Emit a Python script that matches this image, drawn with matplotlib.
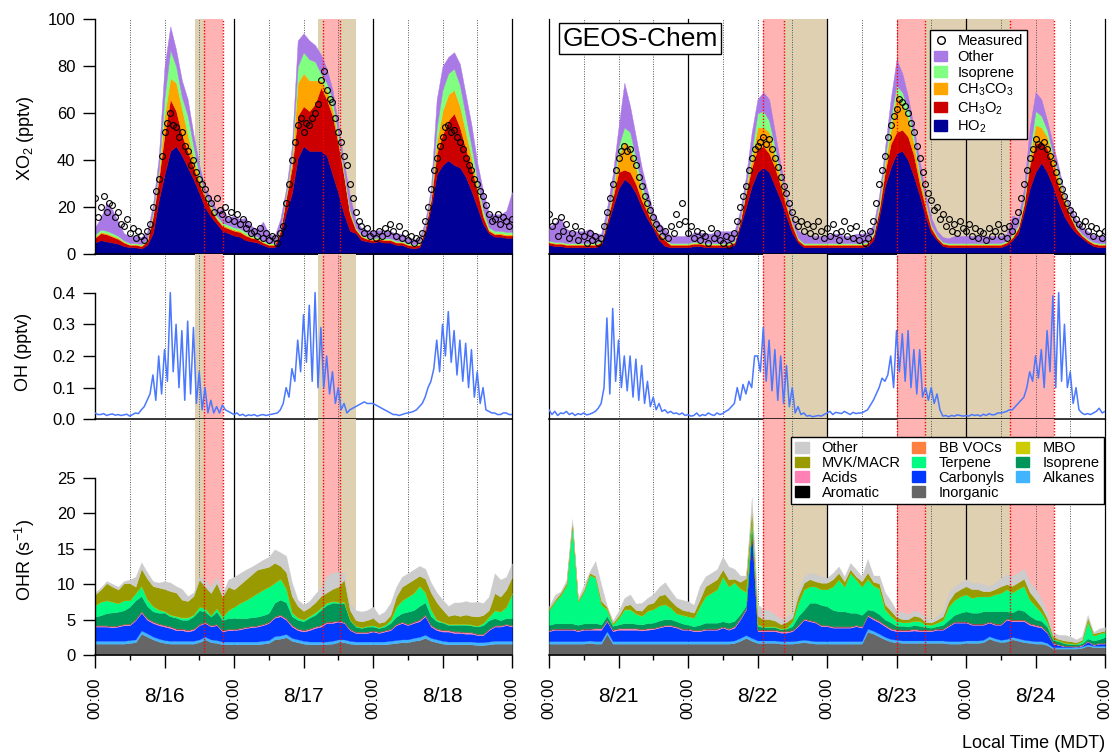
import numpy as np
import matplotlib
matplotlib.use("Agg")
import matplotlib.pyplot as plt
from matplotlib.patches import Patch
from matplotlib.lines import Line2D

plt.rcParams['font.family'] = ['Liberation Sans', 'DejaVu Sans']


def cat(*days):
    return np.concatenate([np.asarray(d, dtype=float) for d in days])


# ---------------- XO2 (pptv), hourly, left block 8/16 - 8/19 00:00 ----------------
ho2_l = cat(
    [5, 6, 5.5, 5, 4.5, 3.5, 3, 3, 2.5, 4, 9, 23, 34, 44, 46, 42, 37, 32, 26, 20, 16, 13, 10, 9],
    [8, 7.5, 6, 5.5, 5, 4, 3, 3, 8, 18, 26, 41, 46, 44, 44, 44, 42, 34, 26, 17, 10, 9, 6, 5.5],
    [5, 5.5, 5, 5, 4, 4, 3, 2.5, 3, 9, 20, 34, 38, 40, 38, 37, 33, 27, 20, 13, 9, 7.5, 7.5, 7, 7])
ch3o2_l = cat(
    [2, 3, 3, 2.5, 2, 1.5, 1, 1, 1, 1.5, 7, 9, 17, 22, 15, 9, 7, 5, 4, 4, 3, 2, 2, 2],
    [2, 2, 2, 1.5, 1.5, 1, 1, 1, 2, 6, 11, 18, 17, 17, 20, 27, 24, 25, 21, 16, 7, 1.5, 1.5, 1],
    [1, 1, 1, 1, 1, 1, 1, 1, 1, 2, 3, 9, 13, 17, 22, 17, 12, 10, 7, 3, 1, 1, 1, 1, 1])
ch3co3_l = cat(
    [0.5, 0.5, 0.5, 0.5, 0.5, 0.3, 0.3, 0.3, 0.3, 0.5, 1, 2, 8, 9, 12, 11, 7, 4, 2, 1, 1, 0.5, 0.5, 0.5],
    [0.5, 0.5, 0.5, 0.3, 0.3, 0.3, 0.3, 0.3, 0.5, 1, 3, 14, 14, 13, 10, 3, 4, 3, 2, 1, 1, 0.5, 0.3, 0.3],
    [0.3, 0.3, 0.3, 0.3, 0.3, 0.3, 0.3, 0.3, 0.3, 0.5, 1, 5, 10, 11, 10, 9, 7, 4, 2, 1, 0.5, 0.5, 0.5, 0.5, 0.5])
isop_xo2_l = cat(
    [1, 1, 1, 1, 0.8, 0.6, 0.5, 0.5, 0.5, 0.5, 1, 2, 8, 12, 7, 5, 8, 5, 2, 1, 1, 1, 1, 1],
    [1, 1, 1, 0.8, 0.8, 0.6, 0.5, 0.5, 0.5, 1, 2, 7, 9, 9, 8, 3, 3, 4, 2, 1, 1, 0.5, 0.5, 0.5],
    [0.5, 0.5, 0.5, 0.5, 0.5, 0.5, 0.5, 0.5, 0.5, 0.5, 1, 6, 9, 9, 9, 9, 7, 5, 3, 2, 1, 1, 1, 1, 1])
other_xo2_l = cat(
    [3, 5, 12, 10, 6, 3, 3, 3, 3, 3, 3, 5, 13, 10, 7, 7, 7, 5, 4, 2, 3, 2, 6, 3],
    [5, 4, 6, 4, 3, 8, 4, 3, 4, 2, 4, 11, 8, 8, 7, 8, 6, 4, 4, 4, 6, 3, 3, 3],
    [3, 3, 3, 3, 3, 3, 2, 2, 2, 2, 3, 12, 10, 7, 7, 9, 9, 9, 7, 8, 6, 7, 7, 9, 17])

# ---------------- XO2 (pptv), hourly, right block 8/21 - 8/25 00:00 ----------------
ho2_r = cat(
    [4, 3.5, 3.5, 3, 3, 3, 3, 3, 3, 4, 12, 20, 28, 32, 30, 26, 20, 15, 11, 6, 3.5, 3, 3, 3],
    [3, 3.5, 3.5, 3, 3, 3, 3, 3, 4, 12, 20, 29, 35, 37, 35, 29, 23, 16, 9, 5, 3, 3, 3, 3],
    [3, 3, 3, 3, 3, 3, 3, 3.5, 6, 16, 29, 37, 43, 44, 40, 33, 25, 16, 9, 6, 3.5, 3, 3, 3],
    [3, 3, 3, 3, 3, 3, 3, 4, 6, 9, 18, 28, 35, 39, 35, 29, 22, 16, 12, 9, 7, 5, 3.5, 3, 3])
ch3o2_r = cat(
    [1, 1, 1, 1, 1, 1, 1, 1, 1, 1, 2, 4, 7, 4, 5, 4, 3, 3, 1, 2.5, 2.5, 1, 1, 1],
    [1, 1, 1, 1, 1, 1, 1, 1, 1, 2, 6, 8, 10, 9, 8, 8, 6, 4, 3, 1, 1, 1, 1, 1],
    [1, 1, 1, 1, 1, 1, 1, 1, 2, 3, 6, 10, 9, 9, 10, 9, 5, 4, 2, 1, 1, 1, 1, 1],
    [1, 1, 1, 1, 1, 1, 1, 1, 1, 2, 3, 10, 12, 9, 10, 8, 7, 6, 4, 2, 1, 1, 1, 1, 1])
ch3co3_r = cat(
    [0.3, 0.3, 0.3, 0.3, 0.3, 0.3, 0.3, 0.3, 0.3, 0.3, 0.5, 2, 7, 12, 11, 7, 4, 2, 1, 0.5, 0.3, 0.3, 0.3, 0.3],
    [0.3, 0.3, 0.3, 0.3, 0.3, 0.3, 0.3, 0.3, 0.3, 0.5, 1, 4, 9, 8, 9, 5, 3, 2, 1, 0.5, 0.3, 0.3, 0.3, 0.3],
    [0.3, 0.3, 0.3, 0.3, 0.3, 0.3, 0.3, 0.3, 0.5, 1, 3, 6, 17, 11, 8, 5, 3, 2, 1, 0.5, 0.3, 0.3, 0.3, 0.3],
    [0.3, 0.3, 0.3, 0.3, 0.3, 0.3, 0.3, 0.3, 0.5, 0.5, 1, 3, 8, 6, 5, 4, 3, 2, 1, 0.5, 0.3, 0.3, 0.3, 0.3, 0.3])
isop_xo2_r = cat(
    [0.5, 0.5, 0.5, 0.5, 0.5, 0.5, 0.5, 0.5, 0.5, 0.5, 1, 2, 4, 6, 6, 4, 3, 2, 1, 0.5, 0.5, 0.5, 0.5, 0.5],
    [0.5, 0.5, 0.5, 0.5, 0.5, 0.5, 0.5, 0.5, 0.5, 1, 2, 3, 6, 7, 5, 4, 2, 1, 0.5, 0.5, 0.5, 0.5, 0.5, 0.5],
    [0.5, 0.5, 0.5, 0.5, 0.5, 0.5, 0.5, 0.5, 1, 2, 3, 5, 3, 5, 4, 3, 2, 1, 0.5, 0.5, 0.5, 0.5, 0.5, 0.5],
    [0.5, 0.5, 0.5, 0.5, 0.5, 0.5, 0.5, 0.5, 1, 1, 2, 3, 6, 5, 3, 2, 2, 1, 0.5, 0.5, 0.5, 0.5, 0.5, 0.5, 0.5])
other_xo2_r = cat(
    [6, 8, 10, 6, 5, 5, 5, 6, 4, 3, 4, 6, 8, 19, 11, 9, 7, 5, 4, 4, 4, 3, 3, 3],
    [3, 4, 4, 4, 4, 5, 5, 5, 4, 3, 4, 8, 6, 8, 9, 6, 4, 3, 3, 3, 4, 3, 3, 3],
    [3, 4, 4, 3, 3, 4, 4, 4, 3, 3, 4, 8, 11, 8, 5, 4, 5, 3, 3, 2, 2, 2, 3, 3],
    [3, 3, 3, 3, 3, 3, 3, 3, 8, 3, 4, 10, 8, 7, 4, 4, 3, 1, 3, 3, 3, 3, 3, 3, 3])

# ---------------- measured XO2 (pptv), half-hourly ----------------
meas_l = cat(
    [24, 16, 20, 25, 18, 22, 21, 16, 18, 13, 12, 15, 9, 11, 7, 10,
     8, 6, 10, 13, 20, 27, 32, 42, 52, 56, 60, 55, 54, 50, 52, 46,
     44, 38, 40, 35, 32, 30, 28, 24, 22, 18, 24, 19, 17, 20, 15, 18],
    [14, 17, 13, 15, 11, 13, 9, 10, 8, 11, 7, 9, 6, 8, 7, 5,
     9, 12, 22, 30, 40, 48, 55, 58, 52, 56, 55, 58, 60, 64, 74, 78,
     70, 66, 65, 58, 52, 48, 42, 38, 30, 24, 18, 14, 12, 9, 11, 8],
    [9, 7, 10, 8, 11, 9, 13, 10, 8, 12, 7, 9, 6, 8, 5, 7,
     6, 9, 14, 20, 28, 36, 41, 46, 50, 54, 55, 52, 53, 50, 48, 45,
     41, 38, 36, 32, 30, 27, 25, 21, 17, 14, 15, 17, 13, 16, 14, 12, 15])
meas_r = cat(
    [17, 12, 14, 8, 16, 10, 13, 7, 9, 12, 6, 10, 8, 5, 9, 6,
     8, 5, 7, 12, 18, 24, 30, 36, 41, 44, 46, 44, 45, 41, 38, 33,
     29, 25, 22, 19, 16, 13, 11, 8, 10, 7, 12, 9, 17, 13, 22, 14],
    [9, 12, 7, 10, 6, 9, 8, 5, 11, 7, 9, 6, 5, 8, 4, 7,
     9, 14, 20, 25, 29, 36, 41, 45, 46, 48, 50, 47, 49, 45, 41, 37,
     33, 29, 26, 22, 18, 15, 12, 14, 10, 13, 9, 12, 8, 14, 10, 7],
    [11, 8, 13, 9, 6, 10, 14, 8, 11, 7, 12, 6, 9, 5, 7, 10,
     14, 22, 30, 36, 42, 50, 55, 59, 62, 66, 65, 63, 60, 56, 52, 46,
     41, 35, 30, 26, 23, 19, 20, 15, 17, 12, 15, 10, 13, 9, 14, 11],
    [10, 13, 8, 11, 7, 10, 9, 6, 11, 8, 10, 13, 8, 11, 7, 12,
     10, 14, 18, 24, 30, 36, 41, 45, 49, 47, 46, 48, 45, 42, 39, 35,
     31, 28, 25, 22, 19, 17, 15, 13, 12, 14, 10, 12, 8, 11, 9, 7, 10])

# ---------------- OH (pptv), half-hourly ----------------
oh_l = cat(
    [0.02, 0.015, 0.015, 0.018, 0.012, 0.015, 0.017, 0.013, 0.015, 0.012, 0.014, 0.016, 0.01, 0.015, 0.02, 0.018,
     0.03, 0.04, 0.06, 0.08, 0.14, 0.06, 0.2, 0.08, 0.22, 0.12, 0.4, 0.15, 0.3, 0.1, 0.28, 0.06,
     0.31, 0.08, 0.29, 0.05, 0.15, 0.03, 0.1, 0.02, 0.06, 0.02, 0.04, 0.02, 0.045, 0.03, 0.025, 0.02],
    [0.015, 0.02, 0.012, 0.016, 0.01, 0.014, 0.012, 0.015, 0.01, 0.013, 0.015, 0.012, 0.014, 0.016, 0.018, 0.02,
     0.03, 0.05, 0.1, 0.07, 0.16, 0.12, 0.25, 0.15, 0.33, 0.18, 0.36, 0.12, 0.4, 0.1, 0.29, 0.1,
     0.2, 0.08, 0.15, 0.05, 0.1, 0.03, 0.05, 0.02, 0.03, 0.035, 0.04, 0.045, 0.05, 0.055, 0.05, 0.05],
    [0.05, 0.045, 0.04, 0.035, 0.03, 0.025, 0.02, 0.015, 0.015, 0.012, 0.015, 0.018, 0.02, 0.022, 0.025, 0.03,
     0.04, 0.05, 0.07, 0.1, 0.12, 0.16, 0.25, 0.15, 0.3, 0.2, 0.34, 0.18, 0.28, 0.14, 0.25, 0.12,
     0.24, 0.1, 0.22, 0.07, 0.15, 0.05, 0.1, 0.03, 0.025, 0.02, 0.02, 0.015, 0.015, 0.02, 0.02, 0.015, 0.015])
oh_r = cat(
    [0.03, 0.015, 0.025, 0.012, 0.02, 0.018, 0.025, 0.015, 0.02, 0.012, 0.018, 0.015, 0.02, 0.014, 0.016, 0.02,
     0.025, 0.035, 0.05, 0.1, 0.32, 0.08, 0.35, 0.12, 0.25, 0.1, 0.2, 0.09, 0.2, 0.07, 0.19, 0.06,
     0.17, 0.05, 0.12, 0.04, 0.07, 0.03, 0.05, 0.025, 0.03, 0.02, 0.025, 0.018, 0.02, 0.015, 0.02, 0.012],
    [0.015, 0.01, 0.012, 0.02, 0.01, 0.015, 0.012, 0.02, 0.015, 0.012, 0.02, 0.015, 0.018, 0.025, 0.03, 0.04,
     0.05, 0.1, 0.06, 0.11, 0.08, 0.12, 0.1, 0.2, 0.2, 0.15, 0.29, 0.12, 0.25, 0.09, 0.22, 0.06,
     0.2, 0.05, 0.17, 0.04, 0.1, 0.02, 0.04, 0.015, 0.02, 0.01, 0.012, 0.008, 0.01, 0.012, 0.01, 0.015],
    [0.02, 0.025, 0.015, 0.022, 0.02, 0.018, 0.025, 0.02, 0.015, 0.022, 0.018, 0.02, 0.02, 0.025, 0.03, 0.045,
     0.06, 0.08, 0.1, 0.13, 0.12, 0.14, 0.2, 0.1, 0.28, 0.15, 0.27, 0.12, 0.28, 0.1, 0.22, 0.08,
     0.22, 0.07, 0.1, 0.06, 0.1, 0.05, 0.08, 0.03, 0.01, 0.012, 0.008, 0.012, 0.01, 0.014, 0.012, 0.01],
    [0.012, 0.01, 0.015, 0.012, 0.014, 0.01, 0.016, 0.012, 0.018, 0.014, 0.015, 0.02, 0.02, 0.022, 0.025, 0.03,
     0.03, 0.04, 0.05, 0.06, 0.07, 0.1, 0.15, 0.12, 0.2, 0.13, 0.22, 0.1, 0.28, 0.15, 0.39, 0.1,
     0.4, 0.12, 0.3, 0.1, 0.15, 0.05, 0.1, 0.03, 0.02, 0.015, 0.018, 0.015, 0.02, 0.025, 0.035, 0.02, 0.025])

# ---------------- OH reactivity (s-1), hourly ----------------
inorg_l = cat(
    [1.6, 1.6, 1.6, 1.6, 1.6, 1.6, 1.7, 1.8, 3.0, 2.6, 2.2, 1.9, 1.7, 1.6, 1.6, 1.6, 1.6, 1.6, 1.8, 2.2, 1.8, 1.7, 1.5, 1.5],
    [1.5, 1.5, 1.5, 1.5, 1.5, 1.6, 1.7, 2.2, 2.3, 2.5, 2.0, 1.8, 1.6, 1.5, 1.5, 1.5, 1.5, 1.6, 1.8, 1.8, 1.6, 1.5, 1.5, 1.5],
    [1.5, 1.5, 1.5, 1.6, 1.7, 1.8, 1.8, 2.0, 2.1, 2.4, 2.0, 1.8, 1.6, 1.5, 1.5, 1.5, 1.5, 1.5, 1.4, 1.4, 1.5, 1.6, 1.6, 1.6, 1.6])
alk_l = cat(
    [0.4, 0.4, 0.4, 0.4, 0.4, 0.4, 0.4, 0.4, 0.45, 0.45, 0.4, 0.4, 0.4, 0.4, 0.4, 0.4, 0.4, 0.4, 0.4, 0.4, 0.4, 0.4, 0.4, 0.4],
    [0.4, 0.4, 0.4, 0.4, 0.4, 0.4, 0.4, 0.45, 0.45, 0.45, 0.4, 0.4, 0.4, 0.4, 0.4, 0.4, 0.4, 0.4, 0.4, 0.4, 0.4, 0.4, 0.4, 0.4],
    [0.4, 0.4, 0.4, 0.4, 0.4, 0.4, 0.4, 0.4, 0.45, 0.45, 0.4, 0.4, 0.4, 0.4, 0.4, 0.4, 0.4, 0.4, 0.4, 0.4, 0.4, 0.4, 0.4, 0.4, 0.4])
carb_l = cat(
    [2.0, 2.0, 2.0, 1.9, 2.0, 2.2, 2.1, 2.7, 2.5, 1.9, 1.9, 1.9, 1.9, 1.8, 1.5, 1.5, 1.3, 1.5, 2.0, 1.9, 1.8, 2.1, 1.4, 1.6],
    [1.6, 1.7, 1.9, 2.0, 2.1, 2.2, 2.4, 2.6, 2.7, 2.0, 1.6, 1.3, 1.3, 1.6, 1.9, 2.1, 2.6, 2.5, 2.5, 2.3, 1.5, 1.2, 1.2, 1.2],
    [1.4, 1.2, 1.4, 1.5, 2.1, 2.3, 2.0, 2.1, 2.2, 2.6, 1.6, 1.3, 1.3, 1.4, 1.2, 1.2, 1.1, 1.1, 1.0, 1.0, 1.6, 2.0, 2.0, 2.2, 2.0])
acid_l = cat(
    [0.15, 0.15, 0.15, 0.15, 0.15, 0.15, 0.15, 0.15, 0.2, 0.2, 0.2, 0.2, 0.2, 0.2, 0.2, 0.2, 0.2, 0.2, 0.15, 0.15, 0.15, 0.15, 0.15, 0.15],
    [0.15, 0.15, 0.15, 0.15, 0.15, 0.15, 0.15, 0.15, 0.2, 0.2, 0.2, 0.2, 0.2, 0.2, 0.2, 0.2, 0.2, 0.2, 0.15, 0.15, 0.15, 0.15, 0.15, 0.15],
    [0.15, 0.15, 0.15, 0.15, 0.15, 0.15, 0.15, 0.15, 0.2, 0.2, 0.2, 0.2, 0.2, 0.2, 0.2, 0.2, 0.2, 0.2, 0.15, 0.15, 0.15, 0.15, 0.15, 0.15, 0.15])
arom_l = cat(
    [0.03, 0.03, 0.03, 0.03, 0.03, 0.03, 0.03, 0.04, 0.04, 0.04, 0.03, 0.03, 0.03, 0.03, 0.03, 0.03, 0.03, 0.03, 0.03, 0.03, 0.03, 0.03, 0.03, 0.03],
    [0.03, 0.03, 0.03, 0.03, 0.03, 0.03, 0.03, 0.04, 0.04, 0.04, 0.03, 0.03, 0.03, 0.03, 0.03, 0.03, 0.03, 0.03, 0.03, 0.03, 0.03, 0.03, 0.03, 0.03],
    [0.03, 0.03, 0.03, 0.03, 0.03, 0.03, 0.03, 0.04, 0.04, 0.04, 0.03, 0.03, 0.03, 0.03, 0.03, 0.03, 0.03, 0.03, 0.03, 0.03, 0.03, 0.03, 0.03, 0.03, 0.03])
bb_l = cat(
    [0.02, 0.02, 0.02, 0.02, 0.02, 0.02, 0.02, 0.02, 0.02, 0.02, 0.02, 0.02, 0.02, 0.02, 0.02, 0.02, 0.02, 0.02, 0.02, 0.02, 0.02, 0.02, 0.02, 0.02],
    [0.02, 0.02, 0.02, 0.02, 0.02, 0.02, 0.02, 0.02, 0.02, 0.02, 0.02, 0.02, 0.02, 0.02, 0.02, 0.02, 0.02, 0.02, 0.02, 0.02, 0.02, 0.02, 0.02, 0.02],
    [0.02, 0.02, 0.02, 0.02, 0.02, 0.02, 0.02, 0.02, 0.02, 0.02, 0.02, 0.02, 0.02, 0.02, 0.02, 0.02, 0.02, 0.02, 0.02, 0.02, 0.02, 0.02, 0.02, 0.02, 0.02])
isop_l = cat(
    [1.2, 1.4, 1.7, 1.9, 1.9, 1.9, 2.4, 2.6, 2.1, 1.7, 1.4, 1.5, 1.7, 1.4, 1.5, 1.2, 1.4, 1.7, 1.9, 1.4, 1.2, 1.7, 1.4, 1.5],
    [1.5, 1.4, 1.2, 1.2, 1.2, 1.2, 1.2, 1.9, 2.1, 2.2, 1.2, 1.2, 1.2, 1.5, 1.6, 2.1, 2.3, 2.6, 2.4, 2.6, 1.2, 0.7, 0.5, 0.7],
    [0.5, 0.5, 0.5, 0.8, 1.0, 1.2, 1.7, 1.6, 1.9, 1.7, 1.2, 1.0, 1.0, 0.7, 0.9, 0.9, 1.0, 0.9, 1.0, 1.2, 1.2, 1.0, 0.7, 0.8, 1.0])
terp_l = cat(
    [1.6, 1.9, 1.8, 1.5, 1.2, 1.4, 0.9, 1.0, 1.4, 0.9, 0.7, 0.4, 0.2, 0.2, 0.2, 0.3, 0.3, 0.2, 0.5, 0.5, 0.2, 0.5, 0.5, 1.1],
    [1.6, 2.1, 2.5, 2.9, 3.3, 3.6, 3.7, 2.8, 2.9, 1.9, 0.5, 0.3, 0.2, 0.2, 0.3, 0.3, 0.3, 0.2, 0.2, 0.2, 0.1, 0.1, 0.1, 0.1],
    [0.2, 0.1, 0.2, 0.4, 1.4, 1.8, 2.1, 2.4, 2.8, 1.4, 0.9, 0.2, 0.1, 0.1, 0.1, 0.1, 0.1, 0.1, 0.1, 0.3, 0.5, 1.1, 1.2, 1.6, 3.5])
mbo_l = cat(
    [0.02, 0.02, 0.02, 0.02, 0.02, 0.02, 0.02, 0.02, 0.05, 0.05, 0.05, 0.05, 0.05, 0.05, 0.05, 0.05, 0.05, 0.05, 0.02, 0.02, 0.02, 0.02, 0.02, 0.02],
    [0.02, 0.02, 0.02, 0.02, 0.02, 0.02, 0.02, 0.02, 0.05, 0.05, 0.05, 0.05, 0.05, 0.05, 0.05, 0.05, 0.05, 0.05, 0.02, 0.02, 0.02, 0.02, 0.02, 0.02],
    [0.02, 0.02, 0.02, 0.02, 0.02, 0.02, 0.02, 0.02, 0.05, 0.05, 0.05, 0.05, 0.05, 0.05, 0.05, 0.05, 0.05, 0.05, 0.02, 0.02, 0.02, 0.02, 0.02, 0.02, 0.02])
mvk_l = cat(
    [1.5, 1.7, 2.4, 2.1, 1.9, 2.4, 2.4, 0.9, 2.4, 2.9, 2.8, 3.1, 3.1, 3.3, 3.3, 2.5, 2.3, 2.6, 3.8, 3.0, 3.1, 3.5, 2.8, 3.3],
    [2.4, 2.6, 2.9, 3.1, 3.3, 3.0, 2.8, 2.8, 1.8, 2.3, 2.3, 1.6, 1.2, 1.2, 1.4, 1.6, 1.4, 1.7, 2.1, 3.1, 1.3, 0.8, 0.8, 0.8],
    [1.0, 0.6, 0.5, 0.7, 1.4, 1.9, 1.9, 1.9, 1.4, 1.9, 2.4, 2.4, 1.7, 1.1, 1.3, 1.1, 1.3, 1.2, 1.3, 1.1, 0.9, 2.4, 2.1, 2.4, 2.3])
oth_l = cat(
    [0.3, 0.3, 0.3, 0.4, 0.4, 0.3, 0.5, 1.4, 0.9, 0.9, 0.7, 0.7, 1.1, 1.2, 0.9, 1.5, 0.7, 0.5, 0.4, 1.0, 0.9, 0.9, 0.5, 1.0],
    [1.8, 1.6, 1.4, 1.1, 0.9, 1.2, 1.4, 1.9, 1.9, 2.3, 1.9, 0.9, 0.9, 0.9, 1.2, 1.2, 2.3, 2.3, 2.1, 0.9, 1.0, 1.4, 1.4, 1.4],
    [1.6, 1.1, 1.4, 1.7, 1.4, 1.4, 1.4, 1.4, 1.4, 1.4, 1.4, 1.4, 1.4, 1.4, 1.7, 1.9, 1.9, 1.9, 2.1, 1.7, 1.9, 2.8, 2.4, 1.8, 1.9])

inorg_r = cat(
    [1.6, 1.6, 1.6, 1.6, 1.6, 1.6, 1.6, 1.7, 1.6, 1.6, 3.0, 1.6, 1.6, 1.6, 1.6, 1.6, 1.6, 1.6, 1.6, 1.6, 1.6, 1.6, 1.6, 1.6],
    [1.6, 1.6, 1.6, 1.6, 1.6, 1.6, 1.6, 1.6, 1.7, 2.0, 2.4, 2.0, 1.7, 1.7, 1.7, 1.7, 1.6, 1.6, 1.6, 1.7, 1.8, 1.7, 1.6, 1.6],
    [1.6, 1.6, 1.6, 1.6, 1.6, 1.6, 1.6, 3.3, 3.0, 2.6, 2.2, 1.9, 1.8, 1.7, 1.7, 1.7, 1.7, 1.7, 1.7, 1.7, 1.7, 1.6, 1.6, 1.6],
    [1.7, 1.7, 1.7, 1.8, 2.3, 2.0, 1.8, 1.9, 2.2, 2.0, 1.8, 1.7, 1.6, 1.6, 1.4, 0.9, 0.9, 0.9, 0.9, 0.9, 1.0, 1.3, 1.1, 1.1, 1.1])
alk_r = cat(
    [0.35, 0.35, 0.35, 0.35, 0.35, 0.35, 0.35, 0.35, 0.35, 0.35, 0.35, 0.35, 0.35, 0.35, 0.35, 0.35, 0.35, 0.35, 0.35, 0.35, 0.35, 0.35, 0.35, 0.35],
    [0.35, 0.35, 0.35, 0.35, 0.35, 0.35, 0.35, 0.35, 0.35, 0.4, 0.4, 0.4, 0.35, 0.35, 0.35, 0.35, 0.35, 0.35, 0.35, 0.35, 0.35, 0.35, 0.35, 0.35],
    [0.35, 0.35, 0.35, 0.35, 0.35, 0.35, 0.35, 0.4, 0.4, 0.4, 0.35, 0.35, 0.35, 0.35, 0.35, 0.35, 0.35, 0.35, 0.35, 0.35, 0.35, 0.35, 0.35, 0.35],
    [0.35, 0.35, 0.35, 0.35, 0.35, 0.35, 0.35, 0.35, 0.35, 0.35, 0.35, 0.35, 0.35, 0.35, 0.3, 0.2, 0.2, 0.2, 0.2, 0.2, 0.2, 0.2, 0.2, 0.2, 0.2])
carb_r = cat(
    [1.4, 1.6, 1.6, 1.6, 1.6, 1.4, 1.6, 1.5, 1.6, 1.6, 1.4, 1.4, 1.6, 1.6, 1.6, 1.6, 1.5, 1.6, 1.7, 1.9, 2.1, 2.1, 1.9, 1.6],
    [1.6, 1.4, 1.4, 1.6, 1.6, 1.6, 1.9, 1.6, 1.8, 2.6, 3.6, 15.2, 1.3, 1.3, 1.3, 1.3, 1.2, 1.2, 1.4, 2.0, 2.8, 2.7, 2.6, 2.1],
    [2.1, 1.9, 1.9, 1.9, 1.9, 2.1, 1.9, 1.8, 1.6, 1.6, 1.5, 1.3, 1.2, 1.3, 1.3, 1.4, 1.3, 1.3, 1.3, 1.5, 1.5, 2.1, 2.6, 2.6],
    [2.5, 2.2, 2.2, 2.1, 1.9, 1.9, 2.1, 2.7, 2.2, 2.4, 2.6, 2.2, 2.1, 1.9, 1.4, 0.5, 0.3, 0.1, 0.1, 0.05, 0.1, 0.4, 0.1, 0.3, 0.3])
acid_r = cat(
    [0.15, 0.15, 0.15, 0.15, 0.15, 0.15, 0.15, 0.15, 0.2, 0.2, 0.2, 0.2, 0.2, 0.2, 0.2, 0.2, 0.2, 0.2, 0.15, 0.15, 0.15, 0.15, 0.15, 0.15],
    [0.15, 0.15, 0.15, 0.15, 0.15, 0.15, 0.15, 0.15, 0.2, 0.2, 0.2, 0.2, 0.2, 0.2, 0.2, 0.2, 0.2, 0.2, 0.15, 0.15, 0.15, 0.15, 0.15, 0.15],
    [0.15, 0.15, 0.15, 0.15, 0.15, 0.15, 0.15, 0.15, 0.2, 0.2, 0.2, 0.2, 0.2, 0.2, 0.2, 0.2, 0.2, 0.2, 0.15, 0.15, 0.15, 0.15, 0.15, 0.15],
    [0.15, 0.15, 0.15, 0.15, 0.15, 0.15, 0.15, 0.15, 0.2, 0.2, 0.2, 0.2, 0.2, 0.2, 0.15, 0.1, 0.1, 0.1, 0.1, 0.1, 0.1, 0.1, 0.1, 0.1, 0.1])
arom_r = cat(
    [0.03, 0.03, 0.03, 0.03, 0.03, 0.03, 0.03, 0.03, 0.03, 0.03, 0.03, 0.03, 0.03, 0.03, 0.03, 0.03, 0.03, 0.03, 0.03, 0.03, 0.03, 0.03, 0.03, 0.03],
    [0.03, 0.03, 0.03, 0.03, 0.03, 0.03, 0.03, 0.03, 0.03, 0.04, 0.04, 0.04, 0.03, 0.03, 0.03, 0.03, 0.03, 0.03, 0.03, 0.03, 0.03, 0.03, 0.03, 0.03],
    [0.03, 0.03, 0.03, 0.03, 0.03, 0.03, 0.03, 0.04, 0.04, 0.04, 0.03, 0.03, 0.03, 0.03, 0.03, 0.03, 0.03, 0.03, 0.03, 0.03, 0.03, 0.03, 0.03, 0.03],
    [0.03, 0.03, 0.03, 0.03, 0.03, 0.03, 0.03, 0.03, 0.03, 0.03, 0.03, 0.03, 0.03, 0.03, 0.02, 0.02, 0.02, 0.02, 0.02, 0.02, 0.02, 0.02, 0.02, 0.02, 0.02])
bb_r = cat(
    [0.02, 0.02, 0.02, 0.02, 0.02, 0.02, 0.02, 0.02, 0.02, 0.02, 0.02, 0.02, 0.02, 0.02, 0.02, 0.02, 0.02, 0.02, 0.02, 0.02, 0.02, 0.02, 0.02, 0.02],
    [0.02, 0.02, 0.02, 0.02, 0.02, 0.02, 0.02, 0.02, 0.02, 0.02, 0.02, 0.02, 0.02, 0.02, 0.02, 0.02, 0.02, 0.02, 0.02, 0.02, 0.02, 0.02, 0.02, 0.02],
    [0.02, 0.02, 0.02, 0.02, 0.02, 0.02, 0.02, 0.02, 0.02, 0.02, 0.02, 0.02, 0.02, 0.02, 0.02, 0.02, 0.02, 0.02, 0.02, 0.02, 0.02, 0.02, 0.02, 0.02],
    [0.02, 0.02, 0.02, 0.02, 0.02, 0.02, 0.02, 0.02, 0.02, 0.02, 0.02, 0.02, 0.02, 0.02, 0.01, 0.01, 0.01, 0.01, 0.01, 0.01, 0.01, 0.01, 0.01, 0.01, 0.01])
isop_r = cat(
    [0.7, 0.7, 0.7, 0.7, 0.7, 0.7, 0.7, 0.7, 0.7, 0.5, 0.5, 0.5, 0.5, 0.7, 0.7, 0.6, 0.6, 0.7, 0.7, 0.8, 0.8, 0.8, 0.7, 0.7],
    [0.5, 0.5, 0.7, 0.8, 0.8, 0.8, 0.7, 0.8, 0.7, 0.5, 0.3, 0.5, 0.5, 0.3, 0.3, 0.3, 0.2, 0.3, 0.5, 1.2, 1.2, 2.4, 2.6, 2.8],
    [2.6, 2.3, 2.1, 2.1, 1.9, 1.7, 1.6, 0.7, 1.0, 0.9, 0.7, 0.8, 0.5, 0.5, 0.4, 0.5, 0.5, 0.3, 0.3, 0.3, 0.5, 0.7, 0.9, 1.2],
    [1.4, 1.5, 1.5, 1.7, 1.4, 1.7, 1.7, 1.0, 1.0, 1.4, 1.2, 1.0, 0.7, 0.7, 0.7, 0.4, 0.4, 0.3, 0.2, 0.2, 0.2, 0.3, 0.5, 0.5, 0.8])
terp_r = cat(
    [2.1, 3.1, 4.0, 5.4, 14.0, 3.3, 4.5, 6.8, 6.4, 2.8, 0.9, 0.2, 0.9, 1.9, 1.9, 1.4, 1.2, 1.7, 1.9, 2.1, 2.1, 1.6, 1.1, 1.2],
    [1.2, 1.2, 2.6, 3.7, 4.2, 4.7, 6.3, 5.1, 5.4, 3.6, 1.9, 1.0, 0.2, 0.1, 0.1, 0.1, 0.1, 0.1, 0.7, 1.9, 2.9, 2.3, 2.3, 2.2],
    [2.4, 3.3, 4.5, 3.5, 5.6, 4.7, 4.0, 4.3, 3.5, 3.6, 1.4, 0.9, 0.7, 0.5, 0.6, 0.6, 0.7, 0.4, 0.4, 0.5, 0.7, 1.9, 2.1, 2.3],
    [2.4, 2.1, 2.3, 2.1, 2.1, 2.4, 2.6, 3.1, 2.8, 2.9, 3.5, 2.3, 1.9, 1.2, 0.7, 0.2, 0.1, 0.1, 0.1, 0.1, 0.3, 2.4, 0.7, 0.8, 0.7])
mbo_r = cat(
    [0.02, 0.02, 0.02, 0.02, 0.02, 0.02, 0.02, 0.02, 0.04, 0.04, 0.04, 0.04, 0.04, 0.04, 0.04, 0.04, 0.04, 0.04, 0.02, 0.02, 0.02, 0.02, 0.02, 0.02],
    [0.02, 0.02, 0.02, 0.02, 0.02, 0.02, 0.02, 0.02, 0.04, 0.04, 0.04, 0.04, 0.04, 0.04, 0.04, 0.04, 0.04, 0.04, 0.02, 0.02, 0.02, 0.02, 0.02, 0.02],
    [0.02, 0.02, 0.02, 0.02, 0.02, 0.02, 0.02, 0.02, 0.04, 0.04, 0.04, 0.04, 0.04, 0.04, 0.04, 0.04, 0.04, 0.04, 0.02, 0.02, 0.02, 0.02, 0.02, 0.02],
    [0.02, 0.02, 0.02, 0.02, 0.02, 0.02, 0.02, 0.02, 0.04, 0.04, 0.04, 0.04, 0.04, 0.04, 0.02, 0.01, 0.01, 0.01, 0.01, 0.01, 0.01, 0.01, 0.01, 0.01, 0.01])
mvk_r = cat(
    [0.2, 0.2, 0.3, 0.3, 0.2, 0.2, 0.2, 0.3, 0.2, 0.5, 0.3, 0.2, 0.3, 0.5, 0.7, 0.5, 0.7, 0.9, 0.9, 1.4, 1.4, 1.0, 1.0, 0.7],
    [0.7, 0.7, 0.9, 1.4, 1.4, 1.4, 1.0, 1.0, 0.5, 0.9, 1.9, 1.3, 1.2, 1.0, 1.0, 0.8, 0.6, 0.8, 0.5, 0.9, 0.9, 1.0, 0.7, 0.9],
    [0.9, 1.0, 0.9, 0.7, 0.5, 0.4, 0.7, 0.9, 0.5, 0.7, 0.7, 0.7, 0.5, 0.4, 0.4, 0.7, 0.5, 0.3, 0.3, 0.4, 0.5, 0.7, 1.0, 1.0],
    [1.1, 1.2, 1.0, 0.7, 0.7, 0.7, 0.9, 0.7, 0.9, 0.9, 1.0, 1.0, 0.9, 0.7, 0.5, 0.3, 0.2, 0.3, 0.3, 0.2, 0.2, 0.5, 0.3, 0.2, 0.2])
oth_r = cat(
    [0.3, 0.7, 0.2, 0.4, 0.5, 0.2, 0.7, 0.2, 2.1, 2.3, 0.2, 0.3, 0.7, 1.1, 1.4, 0.9, 1.1, 0.9, 1.2, 1.2, 1.7, 1.4, 1.1, 1.4],
    [1.4, 1.1, 1.9, 1.4, 1.4, 1.4, 1.8, 1.8, 1.4, 0.9, 0.4, 1.5, 1.6, 1.4, 1.2, 0.9, 0.7, 0.7, 0.7, 0.7, 0.9, 0.9, 1.0, 0.9],
    [0.7, 0.9, 0.9, 0.7, 0.9, 1.0, 0.7, 1.9, 0.9, 1.1, 1.7, 1.4, 0.9, 1.0, 0.7, 0.7, 0.7, 0.7, 0.4, 0.5, 0.7, 1.2, 0.9, 0.9],
    [1.0, 0.9, 0.9, 1.0, 0.7, 0.9, 1.2, 1.4, 1.4, 1.4, 1.4, 1.4, 1.5, 1.1, 0.9, 0.5, 0.6, 0.8, 0.7, 0.4, 0.5, 0.4, 0.2, 0.5, 0.5])

# ---------------- event periods (day of August) ----------------
tan_l = [(16.720, 16.782), (17.604, 17.876)]
red_l = [(16.782, 16.918), (17.641, 17.760)]
tan_r = [(22.688, 23.005), (23.708, 24.320)]
red_r = [(22.538, 22.688), (23.503, 23.708), (24.320, 24.630)]

dates_l = ['8/16', '8/17', '8/18']
dates_r = ['8/21', '8/22', '8/23', '8/24']

xo2_names = ['HO$_\\mathregular{2}$', 'CH$_\\mathregular{3}$O$_\\mathregular{2}$',
             'CH$_\\mathregular{3}$CO$_\\mathregular{3}$', 'Isoprene', 'Other']
xo2_colors = ['#000096', '#cc0000', '#ffa500', '#80ff80', '#a97ae6']

ohr_names = ['Inorganic', 'Alkanes', 'Carbonyls', 'Acids', 'Aromatic', 'BB VOCs',
             'Isoprene', 'Terpene', 'MBO', 'MVK/MACR', 'Other']
ohr_colors = ['#666666', '#40b4ff', '#0038ff', '#ff80b4', '#000000', '#ff7f40',
              '#00965a', '#00fa82', '#cccc00', '#999900', '#cccccc']

TAN = '#dfd0b2'
PINK = '#ffb3b3'
OH_COLOR = '#4a78ff'

columns = [
    dict(start=16, ndays=3, x0=95, x1=512, dates=dates_l, tan=tan_l, red=red_l,
         xo2=[ho2_l, ch3o2_l, ch3co3_l, isop_xo2_l, other_xo2_l], meas=meas_l, oh=oh_l,
         ohr=[inorg_l, alk_l, carb_l, acid_l, arom_l, bb_l, isop_l, terp_l, mbo_l, mvk_l, oth_l]),
    dict(start=21, ndays=4, x0=549, x1=1105, dates=dates_r, tan=tan_r, red=red_r,
         xo2=[ho2_r, ch3o2_r, ch3co3_r, isop_xo2_r, other_xo2_r], meas=meas_r, oh=oh_r,
         ohr=[inorg_r, alk_r, carb_r, acid_r, arom_r, bb_r, isop_r, terp_r, mbo_r, mvk_r, oth_r]),
]

FW, FH = 1112, 755
fig = plt.figure(figsize=(FW / 100, FH / 100), dpi=100)

rows = [(19.3, 254.3, (0, 100)), (254.3, 419.3, (0, 0.521)), (419.3, 655.0, (0, 33.2))]


def decorate(ax, col, first):
    s, nd = col['start'], col['ndays']
    ax.patch.set_visible(False)
    ax.set_xlim(s, s + nd)
    for a, b in col['tan']:
        ax.axvspan(a, b, color=TAN, lw=0, zorder=0)
    for a, b in col['red']:
        ax.axvspan(a, b, color=PINK, lw=0, zorder=0.1)
    for k in range(nd * 4 + 1):
        x = s + k / 4
        if k % 4 == 0:
            if first and k == 0:
                continue
            ax.axvline(x, color='black', lw=0.9, zorder=0.5, clip_on=False)
        else:
            ax.axvline(x, color='#555555', lw=0.7, ls=(0, (1, 1.5)), zorder=0.5)
    for a, b in col['red']:
        for x in (a, b):
            ax.axvline(x, color='red', lw=1.0, ls=(0, (1, 1.2)), zorder=2.2)
    ax.spines['top'].set_visible(False)
    ax.spines['right'].set_visible(False)
    ax.spines['bottom'].set_linewidth(1.1)
    ax.spines['bottom'].set_zorder(4)
    if first:
        ax.spines['left'].set_linewidth(1.0)
        ax.tick_params(axis='y', direction='out', length=9, width=1, pad=5, labelsize=12)
    else:
        ax.spines['left'].set_visible(False)
        ax.tick_params(axis='y', left=False, labelleft=False)


for ci, col in enumerate(columns):
    first = ci == 0
    s, nd = col['start'], col['ndays']
    axs = []
    for (ytop, ybot, ylim) in rows:
        ax = fig.add_axes([col['x0'] / FW, 1 - ybot / FH, (col['x1'] - col['x0']) / FW, (ybot - ytop) / FH])
        ax.set_ylim(*ylim)
        decorate(ax, col, first)
        axs.append(ax)
    ax_x, ax_oh, ax_r = axs

    # XO2 stack + measured
    t_h = s + np.arange(len(col['xo2'][0])) / 24
    ax_x.stackplot(t_h, *col['xo2'], colors=xo2_colors, lw=0.3, edgecolor='face', zorder=1)
    t_hh = s + np.arange(len(col['meas'])) / 48
    ax_x.plot(t_hh, col['meas'], ls='none', marker='o', ms=4.2, mfc='none', mec='black',
              mew=0.8, zorder=3)
    ax_x.tick_params(axis='x', bottom=False, labelbottom=False)
    if first:
        ax_x.set_yticks([0, 20, 40, 60, 80, 100])
        ax_x.spines['left'].set_bounds(0, 100)

    # OH
    t_oh = s + np.arange(len(col['oh'])) / 48
    ax_oh.plot(t_oh, col['oh'], color=OH_COLOR, lw=1.1, zorder=3)
    ax_oh.tick_params(axis='x', bottom=False, labelbottom=False)
    if first:
        ax_oh.set_yticks([0, 0.1, 0.2, 0.3, 0.4])
        ax_oh.set_yticklabels(['0.0', '0.1', '0.2', '0.3', '0.4'])
        ax_oh.spines['left'].set_bounds(0, 0.4)

    # OH reactivity
    t_r = s + np.arange(len(col['ohr'][0])) / 24
    ax_r.stackplot(t_r, *col['ohr'], colors=ohr_colors, lw=0.2, edgecolor='face', zorder=1)
    if first:
        ax_r.set_yticks([0, 5, 10, 15, 20, 25])
        ax_r.spines['left'].set_bounds(0, 25)
    major = s + np.arange(nd * 2 + 1) / 2
    minor = s + 0.25 + np.arange(nd * 2) / 2
    ax_r.set_xticks(major)
    ax_r.set_xticklabels(['00:00' if i % 2 == 0 else '' for i in range(len(major))],
                         rotation=90, fontsize=12)
    ax_r.set_xticks(minor, minor=True)
    ax_r.tick_params(axis='x', which='major', direction='out', length=9, width=1, pad=7)
    ax_r.tick_params(axis='x', which='minor', direction='out', length=3.6, width=1)
    for i, d in enumerate(col['dates']):
        ax_r.text(s + i + 0.5, -0.178, d, transform=ax_r.get_xaxis_transform(),
                  ha='center', va='center', fontsize=15)

    if not first:
        # GEOS-Chem label
        ax_x.text(0.024, 0.918, 'GEOS-Chem', transform=ax_x.transAxes, fontsize=19,
                  ha='left', va='center', zorder=10,
                  bbox=dict(boxstyle='square,pad=0.12', fc='white', ec='black', lw=1))
        h = [Line2D([], [], ls='none', marker='o', ms=5.5, mfc='none', mec='black', mew=1)]
        h += [Patch(color=c) for c in xo2_colors[::-1]]
        lab = ['Measured'] + xo2_names[::-1]
        leg = ax_x.legend(h, lab, loc='upper right', bbox_to_anchor=(0.86, 0.955),
                          fontsize=10.5, fancybox=False, framealpha=1, edgecolor='black',
                          handlelength=0.9, handleheight=0.75, handletextpad=0.7,
                          labelspacing=0.12, borderpad=0.3, borderaxespad=0)
        leg.get_frame().set_linewidth(1.0)
        leg.set_zorder(10)

        order = ['Other', 'MVK/MACR', 'Acids', 'Aromatic', 'BB VOCs', 'Terpene',
                 'Carbonyls', 'Inorganic', 'MBO', 'Isoprene', 'Alkanes']
        h2 = [Patch(color=ohr_colors[ohr_names.index(n)]) for n in order]
        leg2 = ax_r.legend(h2, order, ncol=3, loc='upper right', bbox_to_anchor=(0.998, 0.925),
                           fontsize=10.5, fancybox=False, framealpha=1, edgecolor='black',
                           handlelength=0.9, handleheight=0.75, handletextpad=0.9,
                           labelspacing=0.05, columnspacing=0.8, borderpad=0.3, borderaxespad=0)
        leg2.get_frame().set_linewidth(1.0)
        leg2.set_zorder(10)

fig.text(25 / FW, 1 - 138 / FH, 'XO$_\\mathregular{2}$ (pptv)', rotation=90, ha='center', va='center', fontsize=13)
fig.text(23 / FW, 1 - 352 / FH, 'OH (pptv)', rotation=90, ha='center', va='center', fontsize=13)
fig.text(25 / FW, 1 - 560 / FH, 'OHR (s$^\\mathregular{-1}$)', rotation=90, ha='center', va='center', fontsize=13)
fig.text(1105 / FW, 1 - 743 / FH, 'Local Time (MDT)', ha='right', va='center', fontsize=13)

fig.savefig('out.png', dpi=100)
